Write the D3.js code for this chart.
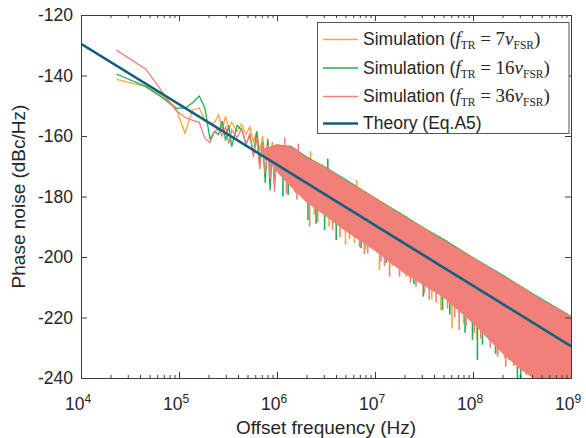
<!DOCTYPE html>
<html>
<head>
<meta charset="utf-8">
<script src="https://cdn.jsdelivr.net/npm/d3@7"></script>
<style>
  body { margin: 0; background: #fff; }
  text { font-family: "Liberation Sans", Arial, Helvetica, sans-serif; fill: #262626; }
  .serif { font-family: "Liberation Serif", "Times New Roman", serif; }
</style>
</head>
<body>
<svg id="chart" width="586" height="438"></svg>
<script>
// ---- data ----
// low-frequency part, where the individual samples still show as lines
var simFreq = [2.3e4, 4.6e4, 6.9e4, 9.2e4, 1.15e5, 1.38e5, 1.61e5, 1.84e5, 2.07e5, 2.3e5,
  2.53e5, 2.76e5, 2.99e5, 3.22e5, 3.45e5, 3.91e5, 4.37e5, 4.83e5, 5.29e5, 5.75e5,
  6.21e5, 6.67e5, 7.13e5, 7.59e5, 8.05e5, 8.51e5, 8.97e5, 9.43e5, 9.89e5];
var orangeSim = [-141.3, -143.7, -147.0, -150.4, -159.0, -151.4, -150.8, -154.7, -155.8, -155.6,
  -153.0, -158.0, -153.5, -157.5, -155.5, -158.5, -156.0, -159.5, -157.0, -162.0,
  -158.5, -165.0, -160.0, -168.0, -161.0, -171.0, -163.0, -175.0, -164.5];
var greenSim = [-139.5, -143.7, -147.5, -150.8, -150.8, -149.0, -146.8, -150.8, -161.0, -158.5,
  -159.5, -155.0, -161.5, -156.5, -163.5, -156.5, -158.0, -162.5, -160.0, -166.0,
  -158.5, -169.0, -162.0, -175.5, -161.0, -178.0, -163.5, -176.0, -166.0];
var pinkSim = [-131.6, -137.9, -145.9, -151.4, -153.8, -154.8, -155.5, -160.8, -162.2, -158.6,
  -157.5, -160.0, -157.0, -162.5, -158.0, -160.5, -157.5, -163.0, -159.0, -167.0,
  -160.5, -171.0, -162.5, -172.5, -163.0, -174.0, -162.0, -178.5, -164.0];

// high-frequency part: upper / lower envelope of the dense noise
var bandFreq = [7e5, 1e6, 1.4e6, 2e6, 3e6, 5e6, 1e7, 2e7, 3e7, 5e7, 1e8, 2e8, 3e8, 5e8, 1e9];
var orangeHi = [-164.5, -162.6, -163.6, -166.9, -169.7, -174.3, -180.2, -186.4, -189.7, -194.1, -199.9, -205.9, -209.2, -213.8, -219.3];
var orangeLo = [-165.0, -171.0, -176.0, -181.0, -185.0, -190.5, -197.0, -204.5, -208.0, -212.5, -221.0, -231.0, -236.0, -241.0, -248.0];
var greenHi = [-164.5, -162.9, -163.2, -166.7, -169.9, -174.1, -180.4, -186.2, -189.9, -193.9, -200.1, -205.7, -209.4, -213.6, -219.4];
var greenLo = [-165.0, -171.5, -176.5, -181.5, -185.5, -191.0, -197.5, -205.0, -208.5, -213.0, -221.5, -231.5, -236.5, -241.5, -248.5];
var pinkHi = [-164.5, -163.0, -163.5, -167.0, -170.0, -174.5, -180.5, -186.5, -190.0, -194.3, -200.2, -206.0, -209.5, -214.0, -219.5];
var pinkLo = [-165.0, -172.0, -177.0, -182.0, -186.0, -191.5, -198.0, -205.5, -209.0, -213.5, -222.0, -232.0, -237.0, -242.0, -249.0];

// dips (and a few peaks) that stick out of the envelope [Hz, dBc/Hz]
var orangeSpikes = [[1.51e6, -178.5], [2.2e6, -165.0], [2.4e6, -186.0], [3.4e6, -190.0], [5.0e6, -196.0],
  [6.16e6, -195.5], [6.5e6, -174.5], [8e6, -197.5], [1.11e7, -204.3], [1.5e7, -203.0],
  [2.07e7, -206.5], [3.8e7, -214.0], [4.71e7, -217.5], [6.1e7, -223.6], [8e7, -222.0],
  [1.1e8, -227.0], [1.35e8, -226.3], [1.78e8, -231.8], [2.1e8, -233.5], [2.52e8, -233.0],
  [3.2e8, -233.4], [4.03e8, -238.5], [5.5e8, -241.0]];
var greenSpikes = [[1.15e6, -180.0], [1.3e6, -179.5], [1.57e6, -178.9], [2.07e6, -187.8], [2.5e6, -189.0],
  [3.06e6, -191.1], [3.3e6, -167.5], [4.02e6, -194.4], [4.88e6, -188.9], [5.71e6, -191.1],
  [7.2e6, -197.0], [9.48e6, -196.6], [1.07e7, -193.3], [1.3e7, -202.0], [1.64e7, -199.9],
  [2.15e7, -204.3], [2.5e7, -209.0], [3.11e7, -213.1], [4.03e7, -210.9], [4.89e7, -217.5],
  [5.8e7, -219.0], [7.23e7, -218.6], [8.3e7, -225.0], [9.88e7, -227.4], [1.11e8, -234.0],
  [1.25e8, -229.0], [1.46e8, -227.4], [1.7e8, -232.0], [2.34e8, -234.0], [2.84e8, -241.0],
  [3.07e8, -241.0], [3.89e8, -238.3], [4.2e8, -236.3], [5.97e8, -238.3]];
var pinkSpikes = [[1.2e6, -160.5], [1.25e6, -179.0], [1.6e6, -181.0], [1.65e6, -162.5], [2.15e6, -190.0],
  [2.6e6, -188.5], [3.7e6, -191.1], [4.4e6, -193.5], [5.5e6, -194.0], [6.94e6, -196.6],
  [7.8e6, -199.0], [8.43e6, -198.8], [1.15e7, -201.5], [1.25e7, -203.0], [1.41e7, -206.5],
  [1.78e7, -206.5], [2.3e7, -208.5], [2.62e7, -209.8], [3.2e7, -212.0], [3.58e7, -214.2],
  [4.2e7, -215.0], [5.5e7, -217.0], [6.5e7, -220.0], [7.23e7, -224.1], [8.5e7, -223.0],
  [1.03e8, -225.2], [1.2e8, -227.0], [1.5e8, -230.0], [1.78e8, -233.0], [2.16e8, -236.3],
  [2.6e8, -236.0], [3.5e8, -239.0], [4.5e8, -242.0]];

var theoryFreq = [1e4, 1e9];
var theoryVal = [-129.5, -229.5];

var xTickValues = [1e4, 1e5, 1e6, 1e7, 1e8, 1e9];
var xTickExp = ['4', '5', '6', '7', '8', '9'];
var yTickValues = [-240, -220, -200, -180, -160, -140, -120];
var legendRatio = ['7', '16', '36'];
var seriesColors = ['#F5A83E', '#22AE50', '#F08078'];
var theoryColor = '#125E82';

// ---- layout ----
var padL = 81, padR = 571, padT = 15, padB = 378;
var svg = d3.select('#chart');
var x = d3.scaleLog().domain([1e4, 1e9]).range([padL, padR]);
var y = d3.scaleLinear().domain([-240, -120]).range([padB, padT]);

svg.append('defs').append('clipPath').attr('id', 'plotClip')
  .append('rect').attr('x', padL).attr('y', padT).attr('width', padR - padL).attr('height', padB - padT);

var plot = svg.append('g').attr('clip-path', 'url(#plotClip)');

function drawSeries(vals, hi, lo, spikes, color) {
  var band = bandFreq.map(function(f, i){ return {f: f, hi: hi[i], lo: lo[i]}; });
  plot.append('path').datum(band)
    .attr('d', d3.area().x(function(d){ return x(d.f); })
      .y0(function(d){ return y(d.lo); }).y1(function(d){ return y(d.hi); }))
    .attr('fill', color);
  plot.append('path').datum(simFreq.map(function(f, i){ return [f, vals[i]]; }))
    .attr('d', d3.line().x(function(d){ return x(d[0]); }).y(function(d){ return y(d[1]); }))
    .attr('fill', 'none').attr('stroke', color).attr('stroke-width', 1.3);
  var loAt = d3.scaleLog().domain(bandFreq).range(lo);
  var hiAt = d3.scaleLog().domain(bandFreq).range(hi);
  // a spike starts inside the band and runs out to its value
  function spikeStart(d) {
    return d[1] > hiAt(d[0]) ? hiAt(d[0]) - 2 : loAt(d[0]) + 2;
  }
  plot.selectAll(null).data(spikes).enter().append('line')
    .attr('x1', function(d){ return x(d[0]); }).attr('x2', function(d){ return x(d[0]); })
    .attr('y1', function(d){ return y(spikeStart(d)); })
    .attr('y2', function(d){ return y(d[1]); })
    .attr('stroke', color).attr('stroke-width', 1.6);
}

drawSeries(orangeSim, orangeHi, orangeLo, orangeSpikes, seriesColors[0]);
drawSeries(greenSim, greenHi, greenLo, greenSpikes, seriesColors[1]);
drawSeries(pinkSim, pinkHi, pinkLo, pinkSpikes, seriesColors[2]);

plot.append('path').datum(theoryFreq.map(function(f, i){ return [f, theoryVal[i]]; }))
  .attr('d', d3.line().x(function(d){ return x(d[0]); }).y(function(d){ return y(d[1]); }))
  .attr('fill', 'none').attr('stroke', theoryColor).attr('stroke-width', 2.6);

// ---- axes (box, ticks inward) ----
var minorTicks = [];
for (var e = 4; e < 9; e++) {
  for (var m = 2; m < 10; m++) minorTicks.push(m * Math.pow(10, e));
}
var axisColor = '#3a3a3a';

function styleAxis(g) {
  g.selectAll('path.domain').attr('stroke', axisColor).attr('stroke-width', 1);
  g.selectAll('.tick line').attr('stroke', axisColor);
  g.selectAll('.tick text').remove();
}

svg.append('g').attr('transform', 'translate(0,' + padB + ')')
  .call(d3.axisBottom(x).tickValues(xTickValues).tickSizeInner(-6).tickSizeOuter(0)).call(styleAxis);
svg.append('g').attr('transform', 'translate(0,' + padB + ')')
  .call(d3.axisBottom(x).tickValues(minorTicks).tickSizeInner(-3).tickSizeOuter(0)).call(styleAxis);
svg.append('g').attr('transform', 'translate(0,' + padT + ')')
  .call(d3.axisTop(x).tickValues(xTickValues).tickSizeInner(-6).tickSizeOuter(0)).call(styleAxis);
svg.append('g').attr('transform', 'translate(0,' + padT + ')')
  .call(d3.axisTop(x).tickValues(minorTicks).tickSizeInner(-3).tickSizeOuter(0)).call(styleAxis);
svg.append('g').attr('transform', 'translate(' + padL + ',0)')
  .call(d3.axisLeft(y).tickValues(yTickValues).tickSizeInner(-6).tickSizeOuter(0)).call(styleAxis);
svg.append('g').attr('transform', 'translate(' + padR + ',0)')
  .call(d3.axisRight(y).tickValues(yTickValues).tickSizeInner(-6).tickSizeOuter(0)).call(styleAxis);

// tick labels
svg.selectAll('text.ylab').data(yTickValues).enter().append('text')
  .attr('class', 'ylab').attr('x', padL - 8).attr('y', function(d){ return y(d) + 6; })
  .attr('text-anchor', 'end').style('font-size', '17.5px').text(function(d){ return d; });

var xl = svg.selectAll('text.xlab').data(xTickValues).enter().append('text')
  .attr('class', 'xlab').attr('x', function(d){ return x(d) - 3; }).attr('y', 410)
  .attr('text-anchor', 'middle').style('font-size', '17.5px');
xl.append('tspan').text('10');
xl.append('tspan').attr('dy', -7).style('font-size', '12px').text(function(d, i){ return xTickExp[i]; });

svg.append('text').attr('x', (padL + padR) / 2).attr('y', 434).attr('text-anchor', 'middle')
  .style('font-size', '19px').text('Offset frequency (Hz)');
svg.append('text').attr('transform', 'translate(25,' + ((padT + padB) / 2) + ') rotate(-90)')
  .attr('text-anchor', 'middle').style('font-size', '19px').text('Phase noise (dBc/Hz)');

// ---- legend ----
var leg = svg.append('g');
leg.append('rect').attr('x', 317.5).attr('y', 22.5).attr('width', 251.5).attr('height', 111)
  .attr('fill', '#fff').attr('stroke', '#555').attr('stroke-width', 1);
var rowY = [39.5, 68, 96.5, 123.5];
legendRatio.forEach(function(r, i){
  leg.append('line').attr('x1', 323).attr('x2', 358).attr('y1', rowY[i]).attr('y2', rowY[i])
    .attr('stroke', seriesColors[i]).attr('stroke-width', 1.3);
  var t = leg.append('text').attr('x', 363).attr('y', rowY[i] + 5.5).style('font-size', '17.5px');
  t.append('tspan').text('Simulation (');
  t.append('tspan').attr('class', 'serif').style('font-style', 'italic').style('font-size', '19px').text('f');
  t.append('tspan').attr('class', 'serif').attr('dy', 4).style('font-size', '11.5px').text('TR');
  t.append('tspan').attr('class', 'serif').attr('dy', -4).style('font-size', '19px').text(' = ' + r);
  t.append('tspan').attr('class', 'serif').style('font-style', 'italic').style('font-size', '19px').text('ν');
  t.append('tspan').attr('class', 'serif').attr('dy', 4).style('font-size', '11.5px').text('FSR');
  t.append('tspan').attr('class', 'serif').attr('dy', -4).style('font-size', '19px').text(')');
});
leg.append('line').attr('x1', 323).attr('x2', 358).attr('y1', rowY[3]).attr('y2', rowY[3])
  .attr('stroke', theoryColor).attr('stroke-width', 2.6);
leg.append('text').attr('x', 363).attr('y', rowY[3] + 5.5).style('font-size', '17.5px').text('Theory (Eq.A5)');
</script>
</body>
</html>
